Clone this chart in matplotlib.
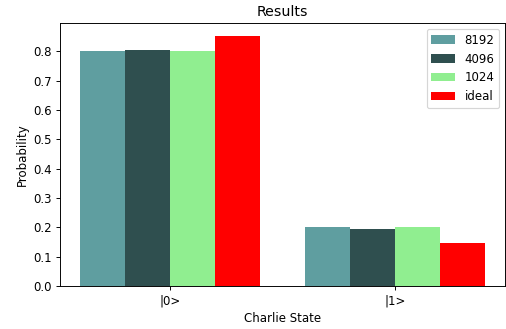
import numpy as np
import matplotlib
matplotlib.use('Agg')
import matplotlib.pyplot as plt

states = ['|0>', '|1>']
labels = ['8192', '4096', '1024', 'ideal']
p_8192 = [0.800, 0.200]
p_4096 = [0.804, 0.196]
p_1024 = [0.800, 0.200]
p_ideal = [0.854, 0.146]
colors = ['cadetblue', 'darkslategray', 'lightgreen', 'red']

x = np.arange(len(states))
width = 0.2

dpi = 85
fig = plt.figure(figsize=(506 / dpi, 329 / dpi), dpi=dpi)
ax = fig.add_axes([60 / 506, 1 - 286 / 329, 445 / 506, 263 / 329])

series = [p_8192, p_4096, p_1024, p_ideal]
for i, (vals, lab, col) in enumerate(zip(series, labels, colors)):
    ax.bar(x + (i - 1.5) * width, vals, width, label=lab, color=col)

ax.set_xticks(x)
ax.set_xticklabels(states)
ax.set_xlabel('Charlie State')
ax.set_ylabel('Probability')
ax.set_title('Results')
ax.legend(loc='upper right')

fig.savefig('out.png', dpi=dpi)
